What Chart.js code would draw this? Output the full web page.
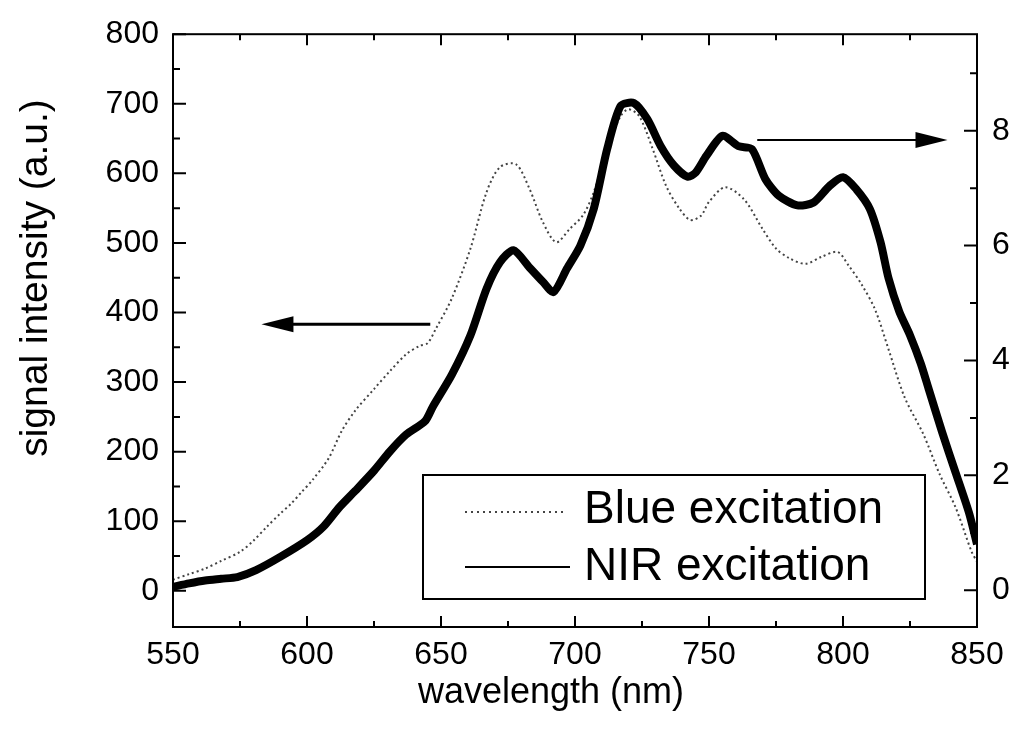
<!DOCTYPE html>
<html>
<head>
<meta charset="utf-8">
<script src="https://cdn.jsdelivr.net/npm/chart.js@4"></script>
<style>
  html, body { margin: 0; padding: 0; background: #fff; }
  #chart { display: block; }
</style>
</head>
<body>
<canvas id="chart" width="1013" height="738"></canvas>
<script>
// Blue excitation, left axis (a.u.)
const blueWavelength = [550, 556, 562, 568, 575, 580, 585, 590, 594, 598, 602, 608, 613, 618, 625, 631, 637, 642, 645, 648,
  654, 661, 667, 672, 678, 683, 688, 693, 698, 703, 707, 712, 717, 720, 724, 729, 734, 739, 743, 747,
  750, 756, 763, 770, 775, 780, 786, 792, 798, 802, 807, 812, 817, 823, 830, 836, 842, 848, 850];
const blueSignal = [16, 24, 32, 43, 56, 72, 92, 111, 125, 142, 159, 190, 230, 259, 290, 316, 340, 352, 356, 376,
  420, 492, 573, 609, 613, 578, 530, 501, 520, 540, 573, 635, 682, 692, 682, 635, 582, 549, 533, 539,
  559, 580, 563, 520, 492, 478, 470, 480, 487, 468, 440, 404, 347, 278, 225, 168, 120, 56, 42];

// NIR excitation, right axis
const nirWavelength = [550, 556, 562, 568, 574, 581, 590, 600, 606, 612, 618, 625, 631, 637, 644, 647, 654, 661, 667, 672,
  677, 683, 688, 692, 697, 702, 707, 712, 717, 722, 727, 732, 737, 742, 745, 749, 755, 761, 766, 771,
  776, 783, 789, 795, 800, 805, 810, 814, 817, 821, 825, 829, 832, 837, 842, 847, 850];
const nirSignal = [0.06, 0.12, 0.17, 0.2, 0.23, 0.35, 0.58, 0.87, 1.1, 1.44, 1.73, 2.08, 2.42, 2.71, 2.94, 3.2, 3.75, 4.44, 5.25, 5.71,
  5.92, 5.62, 5.37, 5.19, 5.6, 6.0, 6.64, 7.68, 8.43, 8.48, 8.2, 7.73, 7.39, 7.2, 7.27, 7.56, 7.91, 7.73, 7.68, 7.16,
  6.87, 6.7, 6.75, 7.04, 7.19, 6.98, 6.64, 6.06, 5.43, 4.85, 4.44, 3.95, 3.5, 2.75, 2.05, 1.35, 0.8];

const xTicks = [550, 600, 650, 700, 750, 800, 850];
const leftTicks = [0, 100, 200, 300, 400, 500, 600, 700, 800];
const rightTicks = [0, 2, 4, 6, 8];
const seriesLabels = ["Blue excitation", "NIR excitation"];
const xTitle = "wavelength (nm)";
const yTitle = "signal intensity (a.u.)";

const FONT = "'Liberation Sans', Arial, sans-serif";

function toPoints(xs, ys) {
  return xs.map((x, i) => ({ x: x, y: ys[i] }));
}

function setTicks(values) {
  return (scale) => {
    scale.ticks = values.map((v) => ({ value: v }));
  };
}

function arrow(ctx, x0, x1, y) {
  // line from x0 to the tip at x1
  const dir = x1 > x0 ? 1 : -1;
  ctx.beginPath();
  ctx.moveTo(x0, y);
  ctx.lineTo(x1 - dir * 28, y);
  ctx.stroke();
  ctx.beginPath();
  ctx.moveTo(x1, y);
  ctx.lineTo(x1 - dir * 32, y - 8);
  ctx.lineTo(x1 - dir * 32, y + 8);
  ctx.closePath();
  ctx.fill();
}

// frame, inward ticks, arrows, titles, legend
const decorations = {
  id: "decorations",
  afterDraw(chart) {
    const ctx = chart.ctx;
    const { left, right, top, bottom } = chart.chartArea;
    const x = chart.scales.x;
    const y = chart.scales.y;
    const y2 = chart.scales.y2;
    ctx.save();
    ctx.strokeStyle = "#000";
    ctx.fillStyle = "#000";
    ctx.lineWidth = 2;
    ctx.strokeRect(left, top, right - left, bottom - top);

    ctx.beginPath();
    for (let i = 0; i < xTicks.length; i++) {
      const px = x.getPixelForValue(xTicks[i]);
      ctx.moveTo(px, bottom); ctx.lineTo(px, bottom - 11);
      ctx.moveTo(px, top); ctx.lineTo(px, top + 11);
      if (i < xTicks.length - 1) {
        const mx = x.getPixelForValue((xTicks[i] + xTicks[i + 1]) / 2);
        ctx.moveTo(mx, bottom); ctx.lineTo(mx, bottom - 6);
        ctx.moveTo(mx, top); ctx.lineTo(mx, top + 6);
      }
    }
    leftTicks.forEach((v, i) => {
      const py = y.getPixelForValue(v);
      ctx.moveTo(left, py); ctx.lineTo(left + 13, py);
      if (i < leftTicks.length - 1) {
        const my = y.getPixelForValue(v + 50);
        ctx.moveTo(left, my); ctx.lineTo(left + 7, my);
      }
    });
    rightTicks.forEach((v) => {
      const py = y2.getPixelForValue(v);
      ctx.moveTo(right, py); ctx.lineTo(right - 13, py);
      const my = y2.getPixelForValue(v + 1);
      ctx.moveTo(right, my); ctx.lineTo(right - 7, my);
    });
    ctx.stroke();

    // arrows pointing at the axes
    ctx.lineWidth = 3;
    arrow(ctx, x.getPixelForValue(646), x.getPixelForValue(583), y.getPixelForValue(383));
    ctx.lineWidth = 2;
    arrow(ctx, x.getPixelForValue(768), x.getPixelForValue(839), y2.getPixelForValue(7.84));

    // axis titles
    ctx.font = "36px " + FONT;
    ctx.textAlign = "center";
    ctx.textBaseline = "middle";
    ctx.fillText(xTitle, 551, 693);
    ctx.save();
    ctx.font = "39px " + FONT;
    ctx.translate(36, 278);
    ctx.rotate(-Math.PI / 2);
    ctx.fillText(yTitle, 0, 0);
    ctx.restore();

    // legend box
    ctx.lineWidth = 2;
    ctx.strokeRect(423, 475, 502, 124);
    ctx.strokeStyle = "#444";
    ctx.setLineDash([2, 4]);
    ctx.beginPath();
    ctx.moveTo(465, 512); ctx.lineTo(566, 512);
    ctx.stroke();
    ctx.setLineDash([]);
    ctx.strokeStyle = "#000";
    ctx.beginPath();
    ctx.moveTo(465, 567); ctx.lineTo(570, 567);
    ctx.stroke();
    ctx.font = "46px " + FONT;
    ctx.textAlign = "left";
    ctx.fillText(seriesLabels[0], 584, 510);
    ctx.fillText(seriesLabels[1], 584, 567);
    ctx.restore();
  }
};

const tickFont = { family: FONT, size: 32 };

new Chart(document.getElementById("chart"), {
  type: "line",
  data: {
    datasets: [
      {
        label: seriesLabels[1],
        data: toPoints(nirWavelength, nirSignal),
        yAxisID: "y2",
        borderColor: "#000",
        borderWidth: 8,
        pointRadius: 0,
        tension: 0.25,
      },
      {
        label: seriesLabels[0],
        data: toPoints(blueWavelength, blueSignal),
        yAxisID: "y",
        borderColor: "#444",
        borderWidth: 2,
        borderDash: [2, 3],
        pointRadius: 0,
        tension: 0.3,
      },
    ],
  },
  options: {
    responsive: false,
    animation: false,
    devicePixelRatio: 1,
    layout: { padding: { top: 31, left: 0, right: 0, bottom: 0 } },
    plugins: { legend: { display: false }, tooltip: { enabled: false } },
    scales: {
      x: {
        type: "linear",
        min: 550,
        max: 850,
        afterBuildTicks: setTicks(xTicks),
        afterFit: (s) => { s.height = 111; },
        grid: { display: false, drawTicks: false },
        border: { display: false },
        ticks: { font: tickFont, color: "#000", padding: 9, maxRotation: 0, autoSkip: false },
      },
      y: {
        position: "left",
        min: -52,
        max: 800,
        afterBuildTicks: setTicks(leftTicks),
        afterFit: (s) => { s.width = 173; },
        grid: { display: false, drawTicks: false },
        border: { display: false },
        ticks: { font: tickFont, color: "#000", padding: 14 },
      },
      y2: {
        position: "right",
        min: -0.64,
        max: 9.68,
        afterBuildTicks: setTicks(rightTicks),
        afterFit: (s) => { s.width = 36; },
        grid: { display: false, drawTicks: false },
        border: { display: false },
        ticks: { font: tickFont, color: "#000", padding: 15 },
      },
    },
  },
  plugins: [decorations],
});
</script>
</body>
</html>
